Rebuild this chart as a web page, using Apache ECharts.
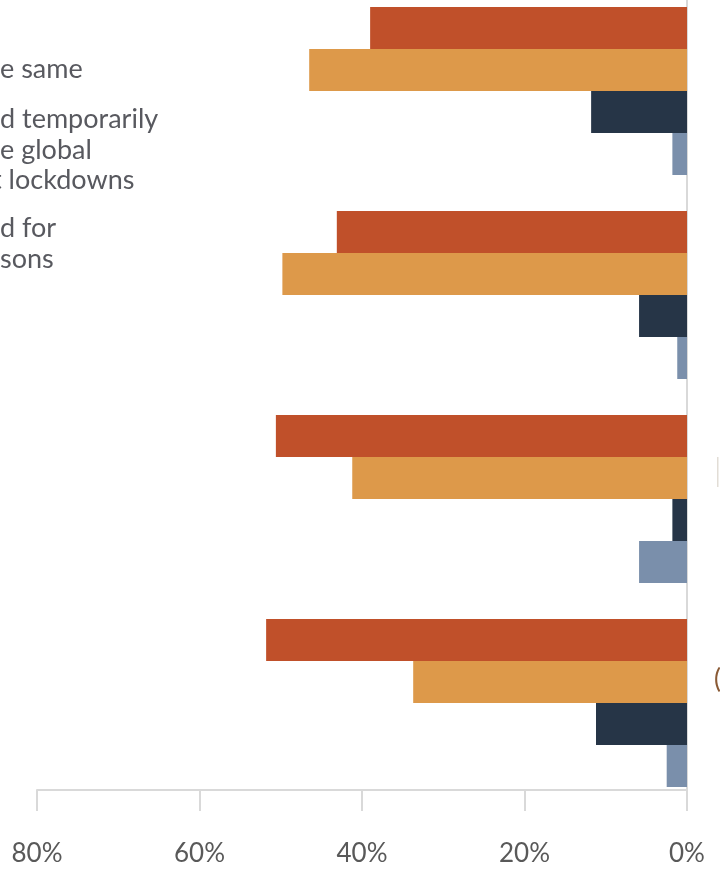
<!DOCTYPE html>
<html>
<head>
<meta charset="utf-8">
<script src="https://cdn.jsdelivr.net/npm/echarts@6/dist/echarts.min.js"></script>
<style>
html,body{margin:0;padding:0;background:#fff;overflow:hidden;width:720px;height:869px;}
#chart{position:absolute;left:0;top:-11px;width:720px;height:880px;}
</style>
</head>
<body>
<div id="chart"></div>
<script>
// Data (percent)
const categories = ['Group 1', 'Group 2', 'Group 3', 'Group 4'];
const seriesNames = ['Series A', 'Series B', 'Series C', 'Series D'];
const seriesA = [39.0, 43.1, 50.6, 51.8];
const seriesB = [46.5, 49.8, 41.2, 33.7];
const seriesC = [11.8, 5.9, 1.8, 11.2];
const seriesD = [1.8, 1.2, 5.9, 2.5];
const tickValues = [0, 20, 40, 60, 80];
const legendFragments = [
  { text: 'e same', y: 72 },
  { text: 'd temporarily', y: 122 },
  { text: 'e global', y: 153 },
  { text: 't lockdowns', y: 183, dx: -8 },
  { text: 'd for', y: 231 },
  { text: 'sons', y: 262 }
];

const colors = ['#C0502A', '#DD994A', '#263547', '#7A8FAB'];
const allSeries = [seriesA, seriesB, seriesC, seriesD];

const chart = echarts.init(document.getElementById('chart'));
const textColor = '#595959';
const font = 'Lato, "Open Sans", sans-serif';
const shiftY = 11; // the chart container sits 11px above the page top

const graphics = legendFragments.map(f => ({
  type: 'text',
  left: (f.dx || 0),
  top: f.y - 16 + shiftY,
  style: { text: f.text, fill: '#58595f', font: '27px ' + font }
}));
graphics.push({ type: 'text', left: 714, top: 667 + shiftY, style: { text: '(', fill: '#8a5a35', font: '26px ' + font } });
graphics.push({ type: 'rect', shape: { x: 717, y: 457 + shiftY, width: 1.5, height: 30 }, style: { fill: '#e2ddd6' } });

chart.setOption({
  animation: false,
  backgroundColor: '#ffffff',
  grid: { left: 37, right: 33, top: 0, bottom: 64, containLabel: false },
  xAxis: {
    type: 'value',
    min: tickValues[0],
    max: tickValues[tickValues.length - 1],
    interval: 20,
    inverse: true,
    position: 'bottom',
    offset: -15,
    axisLine: { show: true, lineStyle: { color: '#d9d9d9', width: 2 } },
    axisTick: { show: true, length: 21, lineStyle: { color: '#d9d9d9', width: 2 } },
    splitLine: { show: false },
    axisLabel: {
      formatter: '{value}%',
      color: textColor,
      fontFamily: font,
      fontSize: 26,
      margin: 51
    }
  },
  yAxis: {
    type: 'category',
    data: categories,
    inverse: true,
    position: 'right',
    axisLine: { show: true, lineStyle: { color: '#d9d9d9', width: 2 } },
    axisTick: { show: false },
    axisLabel: { show: false },
    splitLine: { show: false }
  },
  series: allSeries.map((d, i) => ({
    name: seriesNames[i],
    type: 'bar',
    data: d,
    barWidth: 42,
    barGap: '0%',
    itemStyle: { color: colors[i] }
  })),
  graphic: graphics
});
</script>
</body>
</html>
